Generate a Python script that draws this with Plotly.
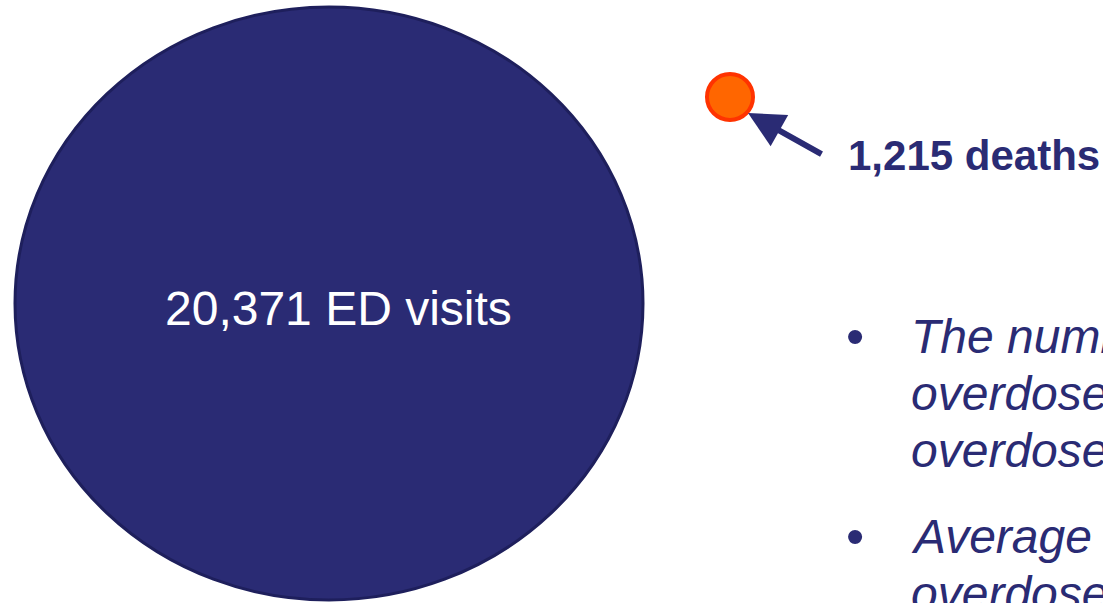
import plotly.graph_objects as go

# ---- data ----
categories = ["ED visits", "deaths"]
counts = [20371, 1215]
bullet_lines = [
    ["The number of nonfatal", "overdoses is many times", "overdose deaths"],
    ["Average number of", "overdoses"],
]

NAVY = "#2A2B74"
NAVY_EDGE = "#1E1F5C"
ORANGE = "#FF6600"
ORANGE_EDGE = "#FF3300"
FONT = "Liberation Sans, Arial, sans-serif"

W, H = 1103, 603
fig = go.Figure()

# big ellipse (ED visits) and small circle (deaths)
fig.add_shape(type="circle", xref="x", yref="y", x0=15, x1=643, y0=7, y1=600,
              fillcolor=NAVY, line=dict(color=NAVY_EDGE, width=3), layer="below")
fig.add_shape(type="circle", xref="x", yref="y", x0=707, x1=753, y0=74, y1=120,
              fillcolor=ORANGE, line=dict(color=ORANGE_EDGE, width=4), layer="below")

# label inside big circle
fig.add_annotation(x=338, y=308, xref="x", yref="y", showarrow=False,
                   text=f"{counts[0]:,} {categories[0]}",
                   font=dict(family=FONT, size=48, color="white"),
                   xanchor="center", yanchor="middle")

# arrow to small circle
fig.add_annotation(x=748, y=113, ax=823, ay=155, xref="x", yref="y",
                   axref="x", ayref="y", text="", showarrow=True,
                   arrowhead=2, arrowsize=1.2, arrowwidth=6, arrowcolor=NAVY)

# deaths label
fig.add_annotation(x=846, y=155, xref="x", yref="y", showarrow=False,
                   text=f"<b>{counts[1]:,} {categories[1]}</b>",
                   font=dict(family=FONT, size=42, color=NAVY),
                   xanchor="left", yanchor="middle")

# bullets
line_y = [[336, 393, 450], [536, 593]]
for lines, ys in zip(bullet_lines, line_y):
    fig.add_annotation(x=855, y=ys[0], xref="x", yref="y", showarrow=False,
                       text="•", font=dict(family=FONT, size=52, color=NAVY),
                       xanchor="center", yanchor="middle")
    for t, yy in zip(lines, ys):
        fig.add_annotation(x=909, y=yy, xref="x", yref="y", showarrow=False,
                           text=f"<i>{t}</i>",
                           font=dict(family=FONT, size=48, color=NAVY),
                           xanchor="left", yanchor="middle")

fig.update_layout(
    width=W, height=H, margin=dict(l=0, r=0, t=0, b=0),
    paper_bgcolor="white", plot_bgcolor="white", showlegend=False,
    xaxis=dict(range=[0, W], visible=False, fixedrange=True),
    yaxis=dict(range=[H, 0], visible=False, fixedrange=True),
)
fig.write_html("out.html", config={"displayModeBar": False},
               post_script="document.body.style.margin='0px';document.body.style.overflow='hidden';")
